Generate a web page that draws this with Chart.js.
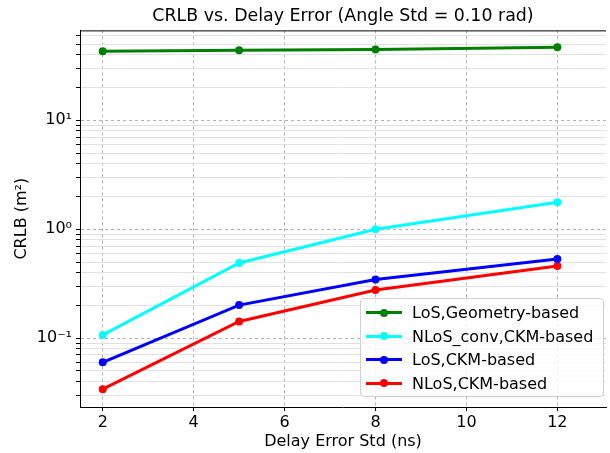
<!DOCTYPE html>
<html>
<head>
<meta charset="utf-8">
<script src="https://cdn.jsdelivr.net/npm/chart.js@4.4.0/dist/chart.umd.min.js"></script>
<style>
  html, body { margin: 0; padding: 0; background: #fff; }
  #wrap { position: relative; width: 610px; height: 453px; overflow: hidden; }
  #legend {
    position: absolute; left: 360px; top: 298px; width: 244px; height: 99px;
    border: 1px solid #d0d0d0; border-radius: 4px; background: rgba(255,255,255,0.8);
    font-family: "DejaVu Sans", sans-serif; font-size: 16px; color: #000;
    box-sizing: border-box; padding-top: 2px;
  }
  .row { display: flex; align-items: center; height: 23.5px; }
  .sw { position: relative; width: 36px; height: 12px; margin-left: 5px; margin-right: 10px; }
  .sw .ln { position: absolute; left: 0; right: 0; top: 4.5px; height: 3px; }
  .sw .dt { position: absolute; left: 14px; top: 2px; width: 8px; height: 8px; border-radius: 50%; }
</style>
</head>
<body>
<div id="wrap">
  <canvas id="crlbChart" width="610" height="453"></canvas>
  <div id="legend"></div>
</div>
<script>
// x軸の値
const delayStd = [2, 5, 8, 12];

// 各手法の CRLB (m²)
const losGeometry = [43.2, 43.9, 44.8, 46.8];
const nlosConvCkm = [0.107, 0.49, 1.0, 1.77];
const losCkm = [0.060, 0.201, 0.346, 0.534];
const nlosCkm = [0.034, 0.142, 0.276, 0.46];

const seriesNames = ['LoS,Geometry-based', 'NLoS_conv,CKM-based', 'LoS,CKM-based', 'NLoS,CKM-based'];
const seriesColors = ['#008000', '#00ffff', '#0000ff', '#ff0000'];

// 目盛り
const xTicks = [2, 4, 6, 8, 10, 12];
const yDecades = [0.01, 0.1, 1, 10];
const yDecadeLabels = { 0.1: '10\u207B\u00B9', 1: '10\u2070', 10: '10\u00B9' };
const yMin = 0.0233, yMax = 67;

const yTicks = [];
yDecades.forEach(d => {
    for (let m = 1; m <= 9; m++) {
        const v = +(d * m).toPrecision(3);
        if (v >= yMin && v <= yMax) yTicks.push(v);
    }
});
const isDecade = v => yDecades.includes(v);

const seriesData = [losGeometry, nlosConvCkm, losCkm, nlosCkm];
const datasets = seriesData.map((vals, i) => ({
    label: seriesNames[i],
    data: vals.map((y, j) => ({ x: delayStd[j], y: y })),
    borderColor: seriesColors[i],
    backgroundColor: seriesColors[i],
    borderWidth: 3,
    pointRadius: 4,
    pointHoverRadius: 4,
    pointBorderWidth: 0,
    tension: 0
}));

// 上枠線
const topBorder = {
    id: 'topBorder',
    afterDraw(chart) {
        const a = chart.chartArea, c = chart.ctx;
        c.save();
        c.strokeStyle = '#000';
        c.lineWidth = 1;
        c.beginPath();
        c.moveTo(a.left, a.top + 0.5);
        c.lineTo(a.right, a.top + 0.5);
        c.stroke();
        c.restore();
    }
};

const font = { family: '"DejaVu Sans", sans-serif', size: 16 };

new Chart(document.getElementById('crlbChart').getContext('2d'), {
    type: 'line',
    data: { datasets: datasets },
    plugins: [topBorder],
    options: {
        responsive: false,
        animation: false,
        layout: { padding: { left: 0, right: 0, top: 0, bottom: 0 } },
        plugins: {
            legend: { display: false },
            tooltip: { enabled: false },
            title: {
                display: true,
                fullSize: false,
                text: 'CRLB vs. Delay Error (Angle Std = 0.10 rad)',
                color: '#000',
                font: { family: font.family, size: 17.4, weight: 'normal' },
                padding: { top: 6, bottom: 3.5 }
            }
        },
        scales: {
            x: {
                type: 'linear',
                min: 1.5,
                max: 13.07,
                afterBuildTicks: s => { s.ticks = xTicks.map(v => ({ value: v })); },
                afterFit: s => { s.height = 46; },
                ticks: { color: '#000', font: font, padding: 2, maxRotation: 0 },
                grid: {
                    color: '#b0b0b0',
                    tickColor: '#000',
                    tickLength: 4,
                    lineWidth: 1
                },
                border: { color: '#000', width: 1, dash: [3, 3] },
                title: {
                    display: true,
                    text: 'Delay Error Std (ns)',
                    color: '#000',
                    font: font,
                    padding: { top: 0, bottom: 2 }
                }
            },
            y: {
                type: 'logarithmic',
                min: yMin,
                max: yMax,
                afterBuildTicks: s => { s.ticks = yTicks.map(v => ({ value: v, major: isDecade(v) })); },
                afterFit: s => { s.width = 80; },
                ticks: {
                    color: '#000',
                    font: font,
                    padding: 4,
                    autoSkip: false,
                    callback: v => yDecadeLabels[v] || ''
                },
                grid: {
                    color: c => isDecade(c.tick.value) ? '#b0b0b0' : '#e2e2e2',
                    tickColor: '#000',
                    tickLength: 4,
                    lineWidth: 1
                },
                border: {
                    color: '#000',
                    width: 1,
                    dash: c => (c.tick && isDecade(c.tick.value)) ? [3, 3] : []
                },
                title: {
                    display: true,
                    text: 'CRLB (m\u00B2)',
                    color: '#000',
                    font: font,
                    padding: { top: 12, bottom: 0 }
                }
            }
        }
    }
});

// 凡例
const legend = document.getElementById('legend');
seriesNames.forEach((name, i) => {
    const row = document.createElement('div');
    row.className = 'row';
    row.innerHTML = '<div class="sw"><div class="ln" style="background:' + seriesColors[i] +
        '"></div><div class="dt" style="background:' + seriesColors[i] + '"></div></div><span>' + name + '</span>';
    legend.appendChild(row);
});
</script>
</body>
</html>
